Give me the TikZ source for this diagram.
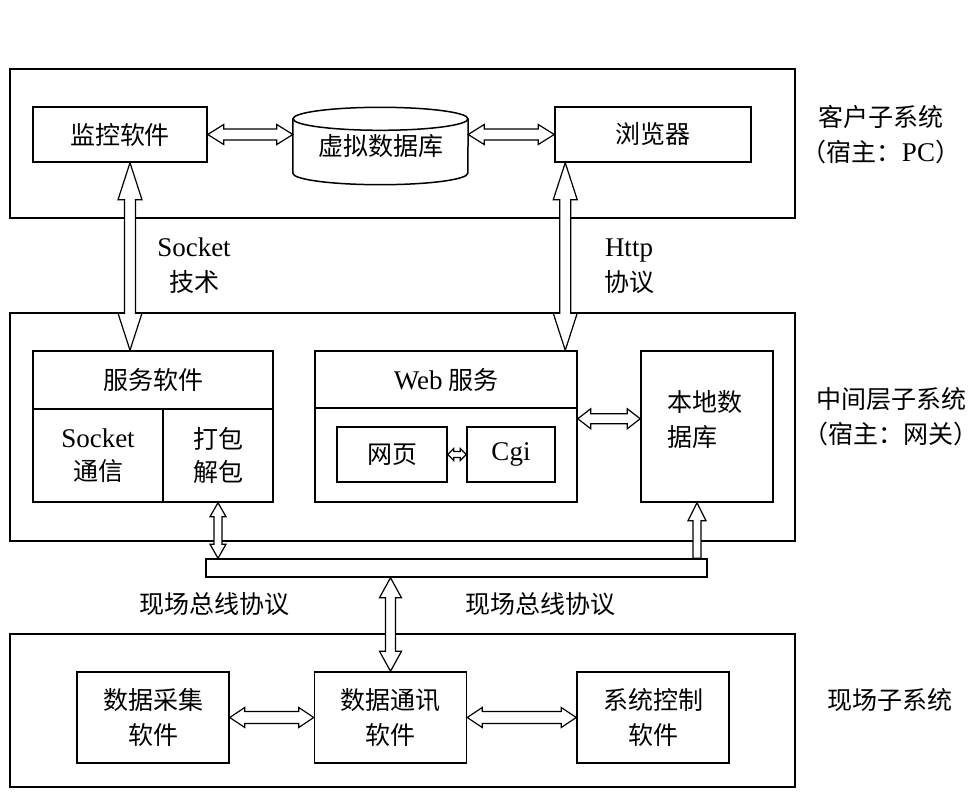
\documentclass[tikz,border=0pt]{standalone}
\usepackage{fontspec}
\setmainfont{Noto Sans CJK SC}
\newfontfamily\lat[Scale=1.08]{Liberation Serif}
\usetikzlibrary{calc}

% hollow arrows: tips #1,#2; half shaft #3, half head #4, head length #5
\newcommand{\hdarrow}[5]{%
  \draw[arr] (#1) -- ++(#5,-#4) -- ++(0,#4-#3) -- ($(#2)+(-#5,-#3)$) -- ++(0,#3-#4)
    -- (#2) -- ++(-#5,#4) -- ++(0,#3-#4) -- ($(#1)+(#5,#3)$) -- ++(0,#4-#3) -- cycle;}
\newcommand{\vdarrow}[5]{%
  \draw[arr] (#1) -- ++(-#4,#5) -- ++(#4-#3,0) -- ($(#2)+(-#3,-#5)$) -- ++(#3-#4,0)
    -- (#2) -- ++(#4,-#5) -- ++(#3-#4,0) -- ($(#1)+(#3,#5)$) -- ++(#4-#3,0) -- cycle;}
\newcommand{\uarrow}[5]{%
  \draw[arr] (#1) -- ++(#4,#5) -- ++(#3-#4,0) -- ($(#2)+(#3,0)$) -- ($(#2)+(-#3,0)$)
    -- ($(#1)+(-#3,#5)$) -- ++(#3-#4,0) -- cycle;}

\begin{document}
\begin{tikzpicture}[x=1pt, y=-1pt, font=\fontsize{25}{35}\selectfont,
  frame/.style={draw, line width=1.5pt, minimum width=785pt, inner sep=0pt},
  box/.style={draw, line width=1.5pt, inner sep=0pt, align=center},
  lbl/.style={align=center, inner sep=0pt},
  arr/.style={draw, fill=white, line width=1.2pt, line join=miter}]
  \useasboundingbox (0,0) rectangle (978,792);

  % subsystems
  \node[frame, minimum height=149pt] (client) at (402.5,143.5) {};
  \node[frame, minimum height=228pt] (middle) at (402.5,427) {};
  \node[frame, minimum height=153pt] (field) at (402.5,710.5) {};
  \node[lbl] (clientlbl) at (881,135) {客户子系统\\（宿主：{\lat PC}）};
  \node[lbl] (middlelbl) at (891,417) {中间层子系统\\（宿主：网关）};
  \node[lbl] (fieldlbl) at (890,700) {现场子系统};

  % client
  \node[box, minimum width=174pt, minimum height=55pt] (mon) at (120,134.5) {监控软件};
  \node[minimum width=175pt, minimum height=77pt, inner sep=0pt] (db) at (380.5,146) {\raisebox{-6pt}{虚拟数据库}};
  \draw[line width=1.5pt] ([yshift=-11.5pt]db.north) ellipse [x radius=87.5pt, y radius=11.5pt];
  \draw[line width=1.5pt] ([yshift=-11.5pt]db.north west) -- ([yshift=11.5pt]db.south west)
    arc[start angle=180, end angle=360, x radius=87.5pt, y radius=11.5pt] -- ([yshift=-11.5pt]db.north east);
  \node[box, minimum width=196pt, minimum height=55pt] (browser) at (653,134.5) {浏览器};
  \node[lbl] (socklbl) at (194,266) {{\lat Socket}\\技术};
  \node[lbl] (httplbl) at (629,266) {{\lat Http}\\协议};

  % gateway
  \node[box, minimum width=240pt, minimum height=58pt] (svc) at (153,380) {服务软件};
  \node[box, minimum width=130pt, minimum height=93pt, font=\fontsize{25}{33}\selectfont] (sock) at (98,455.5) {{\lat Socket}\\通信};
  \node[box, minimum width=110pt, minimum height=93pt, font=\fontsize{25}{33}\selectfont] (pack) at (218,455.5) {打包\\解包};
  \node[box, minimum width=262pt, minimum height=57pt] (web) at (446,379.5) {{\lat Web} 服务};
  \node[box, minimum width=262pt, minimum height=94pt] (webbody) at (446,455) {};
  \node[box, minimum width=110pt, minimum height=55pt] (page) at (392,454.5) {网页};
  \node[box, minimum width=88pt, minimum height=55pt] (cgi) at (511,454.5) {{\lat Cgi}};
  \node[box, minimum width=132pt, minimum height=151pt] (local) at (707,426.5) {};
  \node[lbl, text width=80pt, align=left] (localtxt) at (707,420) {本地数\\据库};

  % bus
  \node[box, minimum width=501pt, minimum height=18pt] (bus) at (456.5,568) {};
  \node[lbl] (buslblL) at (214,604) {现场总线协议};
  \node[lbl] (buslblR) at (540,604) {现场总线协议};

  % field
  \foreach \nm/\x/\txt in {acq/153/数据采集, comm/390.5/数据通讯, ctrl/653/系统控制}
    \node[box, minimum width=152pt, minimum height=91pt] (\nm) at (\x,717.5) {\txt\\软件};

  \coordinate (socktop) at ([xshift=10pt]mon.south);
  \coordinate (sockbot) at (socktop |- svc.north);
  \coordinate (httptop) at ([xshift=11pt]browser.south west);
  \coordinate (httpbot) at (httptop |- web.north);
  \coordinate (mondb) at (mon.east -| db.west);
  \coordinate (dbbr) at (browser.west -| db.east);
  \coordinate (wl) at ([yshift=-10pt]web.south east);
  \coordinate (lw) at (wl -| local.west);
  \coordinate (packbus) at (pack.south |- bus.north);
  \coordinate (lbtop) at ([xshift=-10pt]local.south);
  \coordinate (lbbot) at (lbtop |- bus.north);
  \coordinate (buscomm) at (comm.north |- bus.south);

  \hdarrow{mon.east}{mondb}{5.5}{10}{16}
  \hdarrow{dbbr}{browser.west}{5.5}{10}{16}
  \vdarrow{socktop}{sockbot}{5.5}{12}{37}
  \vdarrow{httptop}{httpbot}{5.5}{12}{37}
  \hdarrow{wl}{lw}{5}{10}{13}
  \hdarrow{page.east}{cgi.west}{3}{6}{6}
  \vdarrow{pack.south}{packbus}{4}{8}{14}
  \uarrow{lbtop}{lbbot}{4}{9}{18}
  \vdarrow{buscomm}{comm.north}{5}{11}{20}
  \hdarrow{acq.east}{comm.west}{6}{10}{15}
  \hdarrow{comm.east}{ctrl.west}{6}{10}{15}
\end{tikzpicture}
\end{document}
